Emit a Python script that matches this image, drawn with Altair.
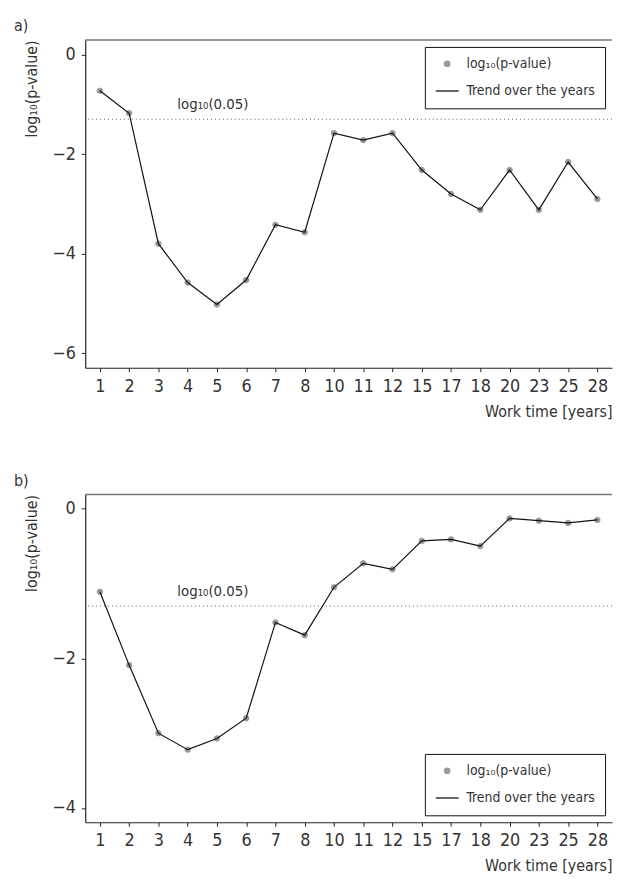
import altair as alt
import pandas as pd

# ---------------- data ----------------
years = ["1", "2", "3", "4", "5", "6", "7", "8", "10", "11", "12",
         "15", "17", "18", "20", "23", "25", "28"]
log_p_a = [-0.73, -1.18, -3.80, -4.58, -5.02, -4.53, -3.42, -3.57, -1.58,
           -1.72, -1.58, -2.32, -2.80, -3.12, -2.32, -3.12, -2.16, -2.90]
log_p_b = [-1.11, -2.09, -3.00, -3.22, -3.07, -2.80, -1.52, -1.69, -1.05,
           -0.73, -0.81, -0.43, -0.41, -0.50, -0.13, -0.16, -0.19, -0.15]
LOG_005 = -1.30103
ref_label = "log₁₀(0.05)"
series_names = ["log₁₀(p-value)", "Trend over the years"]
panel_labels = ["a)", "b)"]
y_domains = [[-6.29, 0.29], [-4.19, 0.19]]
y_tick_values = [[0, -2, -4, -6], [0, -2, -4]]
legend_corners = ["top-right", "bottom-right"]

# ---------------- style ----------------
FONT = "DejaVu Sans Condensed, Roboto, sans-serif"
TEXT = "#333333"
AXIS = "#222222"
W, H = 532, 331


def panel(values, label, domain, ticks, corner):
    df = pd.DataFrame({"year": years, "value": values, "series": series_names[0]})
    ref = pd.DataFrame({"value": [LOG_005], "label": [ref_label]})
    top = pd.DataFrame({"value": [domain[1]]})

    x = alt.X("year:N", sort=years,
              scale=alt.Scale(type="point", padding=0.5),
              axis=alt.Axis(title="Work time [years]", titleAnchor="end",
                            labelAngle=0, tickSize=4, labelPadding=6,
                            titlePadding=8, grid=False))
    y = alt.Y("value:Q",
              scale=alt.Scale(domain=domain, nice=False, zero=False),
              axis=alt.Axis(values=ticks, title=series_names[0],
                            titleAnchor="end", tickSize=4, labelPadding=6,
                            titlePadding=12, grid=False))

    leg = alt.Legend(title=None, orient=corner, offset=7,
                     strokeColor="#111111", fillColor="white", padding=10,
                     labelFont=FONT, labelFontSize=14, labelColor=TEXT,
                     labelOffset=7, rowPadding=8, symbolStrokeWidth=1.3)
    cscale = alt.Scale(domain=series_names, range=["#999999", "#111111"])

    border = alt.Chart(top).mark_rule(color="#777777", strokeWidth=1.5).encode(y=y)
    rule = alt.Chart(ref).mark_rule(color="#666666", strokeWidth=1,
                                    strokeDash=[1, 3]).encode(y=y)
    text = alt.Chart(ref).mark_text(align="left", baseline="alphabetic", dy=-10,
                                    font=FONT, fontSize=15, color=TEXT).encode(
        y=y, x=alt.value(93), text="label:N")
    pts = alt.Chart(df).mark_point(filled=True, opacity=1, strokeWidth=1).encode(
        x=x, y=y,
        fill=alt.Fill("series:N", scale=cscale, legend=leg),
        stroke=alt.Stroke("series:N", scale=cscale, legend=leg),
        shape=alt.Shape("series:N",
                        scale=alt.Scale(domain=series_names, range=["circle", "stroke"]),
                        legend=leg),
        size=alt.Size("series:N",
                      scale=alt.Scale(type="point", padding=0, domain=series_names,
                                      range=[30, 529]),
                      legend=leg),
    )
    line = alt.Chart(df).mark_line(color="#111111", strokeWidth=1.2).encode(x=x, y=y)

    return alt.layer(border, rule, text, pts, line).properties(
        width=W, height=H,
        title=alt.TitleParams(label, anchor="start", frame="bounds", font=FONT,
                              fontSize=16, fontWeight="normal", color=TEXT,
                              offset=5, dx=-10),
    )


pa = panel(log_p_a, panel_labels[0], y_domains[0], y_tick_values[0], legend_corners[0])
pb = panel(log_p_b, panel_labels[1], y_domains[1], y_tick_values[1], legend_corners[1])

chart = (
    alt.vconcat(pa, pb, spacing=54)
    .resolve_scale(fill="independent", stroke="independent",
                   shape="independent", size="independent")
    .properties(padding={"left": 6, "top": 6, "right": 0, "bottom": 0})
    .configure_view(stroke=None)
    .configure_axis(labelFont=FONT, titleFont=FONT, labelColor=TEXT,
                    titleColor=TEXT, labelFontSize=18, titleFontSize=16,
                    titleFontWeight="normal", domainColor=AXIS, tickColor=AXIS,
                    domainWidth=1.2, tickWidth=1)
)

chart.save("out.html", embed_options={"renderer": "svg", "actions": False})
